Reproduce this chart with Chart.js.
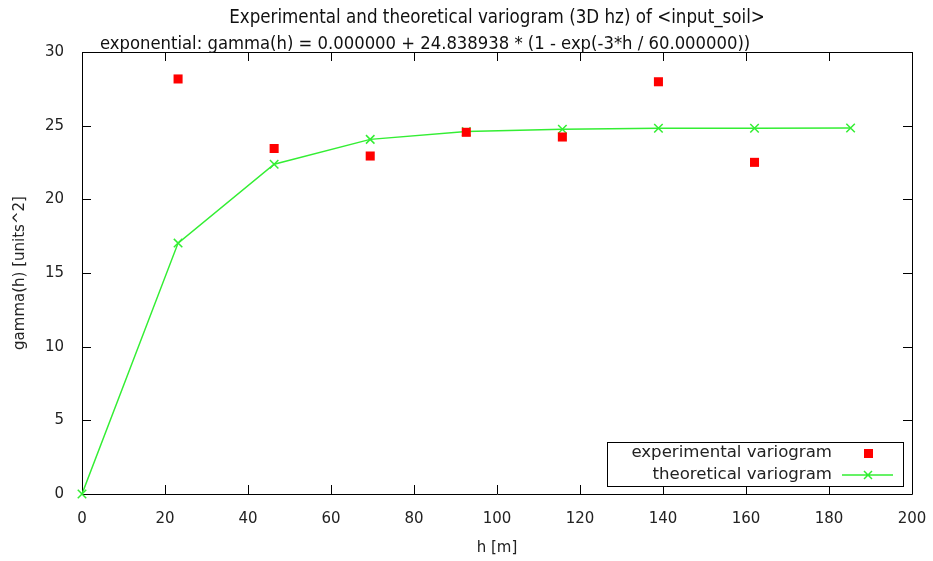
<!DOCTYPE html>
<html lang="en">
<head>
  <meta charset="UTF-8">
  <title>Variogram</title>
  <script src="https://cdn.jsdelivr.net/npm/chart.js"></script>
  <style>
    html, body { margin: 0; padding: 0; background: #fff; }
  </style>
</head>
<body>
  <canvas id="chart" width="933" height="561"></canvas>

  <script>
    // lag distances and experimental semivariance
    const expLags = [23.15, 46.3, 69.45, 92.6, 115.75, 138.9, 162.05];
    const experimental = [28.17, 23.45, 22.94, 24.55, 24.23, 27.98, 22.51];

    // fitted exponential model
    const theoLags = [0, 23.15, 46.3, 69.45, 92.6, 115.75, 138.9, 162.05, 185.2];
    const theoretical = [0, 17.03, 22.38, 24.07, 24.6, 24.76, 24.82, 24.83, 24.84];

    const xTicks = [0, 20, 40, 60, 80, 100, 120, 140, 160, 180, 200];
    const yTicks = [0, 5, 10, 15, 20, 25, 30];

    const titleText = 'Experimental and theoretical variogram (3D hz) of <input_soil>';
    const subTitleText = 'exponential: gamma(h) = 0.000000 + 24.838938 * (1 - exp(-3*h / 60.000000))';

    const FONT = 'DejaVu Sans';
    const RED = '#ff0000';
    const GREEN = '#33ee33';

    // gnuplot style frame with inward ticks on all four sides
    const framePlugin = {
      id: 'frame',
      beforeDatasetsDraw(chart) {
        const { ctx, chartArea: a, scales: { x, y } } = chart;
        ctx.save();
        ctx.strokeStyle = '#000';
        ctx.lineWidth = 1;
        ctx.beginPath();
        ctx.rect(a.left + 0.5, a.top + 0.5, a.right - a.left, a.bottom - a.top);
        xTicks.forEach(t => {
          const px = Math.round(x.getPixelForValue(t)) + 0.5;
          ctx.moveTo(px, a.bottom); ctx.lineTo(px, a.bottom - 9);
          ctx.moveTo(px, a.top); ctx.lineTo(px, a.top + 9);
        });
        yTicks.forEach(t => {
          const py = Math.round(y.getPixelForValue(t)) + 0.5;
          ctx.moveTo(a.left, py); ctx.lineTo(a.left + 9, py);
          ctx.moveTo(a.right, py); ctx.lineTo(a.right - 9, py);
        });
        ctx.stroke();
        ctx.restore();
      },
      afterDraw(chart) {
        const ctx = chart.ctx;
        ctx.save();
        // titles
        ctx.fillStyle = '#111';
        ctx.font = '18.6px "DejaVu Sans Condensed", "' + FONT + '"';
        ctx.textBaseline = 'middle';
        ctx.textAlign = 'center';
        ctx.fillText(titleText, 497, 18);
        ctx.font = '18.3px "DejaVu Sans Condensed", "' + FONT + '"';
        ctx.textAlign = 'left';
        ctx.fillText(subTitleText, 100, 44);

        // legend box
        const bx = 607, by = 442, bw = 296, bh = 44;
        ctx.fillStyle = '#fff';
        ctx.fillRect(bx, by, bw, bh);
        ctx.strokeStyle = '#000';
        ctx.lineWidth = 1;
        ctx.strokeRect(bx + 0.5, by + 0.5, bw, bh);

        ctx.font = '16.6px "' + FONT + '"';
        ctx.fillStyle = '#222';
        ctx.textAlign = 'right';
        const rows = [453, 475];
        chart.data.datasets.forEach((ds, i) => {
          ctx.fillText(ds.label, 832, rows[i]);
        });
        // sample marks
        ctx.fillStyle = RED;
        ctx.fillRect(864, rows[0] - 4, 9, 9);
        ctx.strokeStyle = GREEN;
        ctx.lineWidth = 1.5;
        ctx.beginPath();
        ctx.moveTo(842, rows[1]); ctx.lineTo(893, rows[1]);
        ctx.moveTo(864, rows[1] - 4); ctx.lineTo(872, rows[1] + 4);
        ctx.moveTo(872, rows[1] - 4); ctx.lineTo(864, rows[1] + 4);
        ctx.stroke();
        ctx.restore();
      }
    };

    const ctx = document.getElementById('chart').getContext('2d');
    new Chart(ctx, {
      type: 'scatter',
      data: {
        datasets: [
          {
            label: 'experimental variogram',
            data: expLags.map((h, i) => ({ x: h, y: experimental[i] })),
            pointStyle: 'rect',
            pointRadius: 6.4,
            pointBackgroundColor: RED,
            pointBorderWidth: 0,
            showLine: false
          },
          {
            label: 'theoretical variogram',
            data: theoLags.map((h, i) => ({ x: h, y: theoretical[i] })),
            showLine: true,
            borderColor: GREEN,
            borderWidth: 1.5,
            pointStyle: 'crossRot',
            pointRadius: 6,
            pointBorderColor: GREEN,
            pointBorderWidth: 1.5,
            clip: false
          }
        ]
      },
      options: {
        responsive: false,
        animation: false,
        devicePixelRatio: 1,
        layout: { padding: { top: 52, right: 21, left: 0, bottom: 0 } },
        plugins: {
          legend: { display: false },
          tooltip: { enabled: false }
        },
        scales: {
          x: {
            type: 'linear',
            min: 0,
            max: 200,
            afterFit: s => { s.height = 67; s.paddingLeft = 0; s.paddingRight = 0; },
            afterBuildTicks: s => { s.ticks = xTicks.map(v => ({ value: v })); },
            grid: { display: false },
            border: { display: false },
            ticks: { font: { family: FONT, size: 15 }, color: '#222', padding: 8, maxRotation: 0 },
            title: { display: true, text: 'h [m]', font: { family: FONT, size: 15 }, color: '#222', padding: { top: 0, bottom: 4 } }
          },
          y: {
            min: 0,
            max: 30,
            afterFit: s => { s.width = 82; s.paddingTop = 0; s.paddingBottom = 0; },
            afterBuildTicks: s => { s.ticks = yTicks.map(v => ({ value: v })); },
            grid: { display: false },
            border: { display: false },
            ticks: { font: { family: FONT, size: 15 }, color: '#222', padding: 10 },
            title: { display: true, text: 'gamma(h) [units^2]', font: { family: FONT, size: 15 }, color: '#222', padding: { top: 11, bottom: 0 } }
          }
        }
      },
      plugins: [framePlugin]
    });
  </script>
</body>
</html>
